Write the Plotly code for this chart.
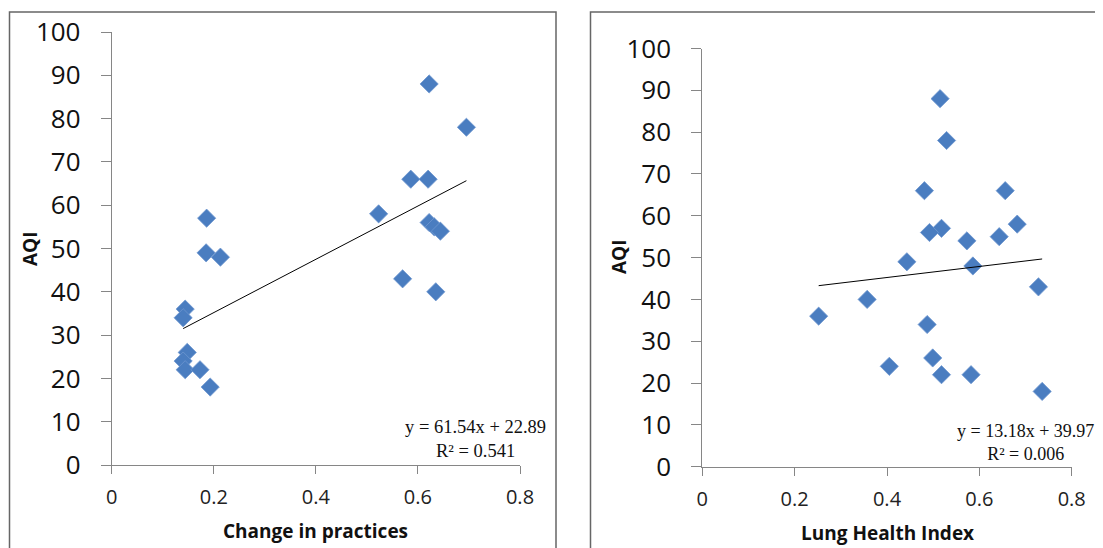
import plotly.graph_objects as go

# ---------------- data ----------------
practice_change = [0.622, 0.695, 0.586, 0.620, 0.523, 0.622, 0.632, 0.644, 0.570, 0.635,
                   0.186, 0.185, 0.213, 0.144, 0.140, 0.148, 0.140, 0.144, 0.173, 0.193]
aqi_practice = [88, 78, 66, 66, 58, 56, 55, 54, 43, 40,
                57, 49, 48, 36, 34, 26, 24, 22, 22, 18]

lung_index = [0.515, 0.529, 0.481, 0.656, 0.682, 0.518, 0.492, 0.643, 0.573, 0.443,
              0.586, 0.728, 0.357, 0.252, 0.487, 0.499, 0.405, 0.518, 0.582, 0.736]
aqi_lung = [88, 78, 66, 66, 58, 57, 56, 55, 54, 49,
            48, 43, 40, 36, 34, 26, 24, 22, 22, 18]

fit_practice = {"slope": 61.54, "intercept": 22.89, "label": "y = 61.54x + 22.89<br>R² = 0.541"}
fit_lung = {"slope": 13.18, "intercept": 39.97, "label": "y = 13.18x + 39.97<br>R² = 0.006"}

x_ticks = [0, 0.2, 0.4, 0.6, 0.8]
x_tick_text = ["0", "0.2", "0.4", "0.6", "0.8"]
y_ticks = [0, 10, 20, 30, 40, 50, 60, 70, 80, 90, 100]

x_titles = ["Change in practices", "Lung Health Index"]
y_title = "AQI"

# ---------------- layout helpers ----------------
# The page body has an 8px margin, so the figure is sized to fill the rest of the window
PAGE_W, PAGE_H, OFF = 1103, 548, 8
W, H = PAGE_W - OFF, PAGE_H - OFF
def px(x):
    return (x - OFF) / W
def py(y):
    return (PAGE_H - y) / H

MARK = "#4a7dc0"
AXC = "#868686"

fig = go.Figure()

panels = [
    (practice_change, aqi_practice, fit_practice, "x", "y"),
    (lung_index, aqi_lung, fit_lung, "x2", "y2"),
]
for xs, ys, fit, xa, ya in panels:
    fig.add_trace(go.Scatter(
        x=xs, y=ys, mode="markers", xaxis=xa, yaxis=ya,
        marker=dict(symbol="diamond", size=14, color=MARK,
                    line=dict(color="#6f97cf", width=0.8)),
        showlegend=False, hoverinfo="skip", cliponaxis=False))
    x0, x1 = min(xs), max(xs)
    fig.add_trace(go.Scatter(
        x=[x0, x1], y=[fit["slope"] * x0 + fit["intercept"], fit["slope"] * x1 + fit["intercept"]],
        mode="lines", xaxis=xa, yaxis=ya,
        line=dict(color="black", width=1), showlegend=False, hoverinfo="skip"))

xaxis_common = dict(range=[0, 0.8], tickvals=x_ticks, ticktext=x_tick_text, automargin=False,
                    showgrid=False, zeroline=False, showline=True, linecolor=AXC, linewidth=1,
                    ticks="outside", ticklen=8, tickcolor=AXC, tickwidth=1,
                    tickfont=dict(family="Open Sans", size=20, color="#222222"),
                    ticklabelstandoff=6)
yaxis_common = dict(range=[0, 100], tickvals=y_ticks, automargin=False,
                    showgrid=False, zeroline=False, showline=True, linecolor=AXC, linewidth=1,
                    ticks="outside", ticklen=10, tickcolor=AXC, tickwidth=1,
                    tickfont=dict(family="Open Sans", size=26, color="#111111"),
                    ticklabelstandoff=15)

fig.update_layout(
    template="none",
    width=W, height=H, autosize=False,
    margin=dict(l=0, r=0, t=0, b=0, pad=0, autoexpand=False),
    paper_bgcolor="white", plot_bgcolor="white",
    xaxis=dict(domain=[px(111.7), px(520)], anchor="y", **xaxis_common),
    yaxis=dict(domain=[py(465), py(32)], anchor="x", **yaxis_common),
    xaxis2=dict(domain=[px(702.3), px(1071.7)], anchor="y2", **xaxis_common),
    yaxis2=dict(domain=[py(466.7), py(48.5)], anchor="x2", **yaxis_common),
)

# panel frames
fig.add_shape(type="rect", xref="paper", yref="paper",
              x0=px(9.5), x1=px(556), y0=-0.05, y1=py(12),
              line=dict(color="#666666", width=1.5), layer="below")
fig.add_shape(type="rect", xref="paper", yref="paper",
              x0=px(590.5), x1=1.05, y0=-0.05, y1=py(12),
              line=dict(color="#666666", width=1.5), layer="below")

title_font = dict(family="Open Sans", size=19, color="#111111", weight="bold")
# x axis titles
fig.add_annotation(x=px(316), y=py(531), xref="paper", yref="paper", text=x_titles[0],
                   showarrow=False, font=title_font, xanchor="center", yanchor="middle")
fig.add_annotation(x=px(887), y=py(533), xref="paper", yref="paper", text=x_titles[1],
                   showarrow=False, font=title_font, xanchor="center", yanchor="middle")
# y axis titles
fig.add_annotation(x=px(30), y=py(249), xref="paper", yref="paper", text=y_title, textangle=-90,
                   showarrow=False, font=title_font, xanchor="center", yanchor="middle")
fig.add_annotation(x=px(619), y=py(257), xref="paper", yref="paper", text=y_title, textangle=-90,
                   showarrow=False, font=title_font, xanchor="center", yanchor="middle")

# trendline equations
eq_font = dict(family="Liberation Serif", size=18.5, color="#111111")
fig.add_annotation(x=px(475), y=py(439), xref="paper", yref="paper", text=fit_practice["label"],
                   showarrow=False, font=eq_font, align="center", xanchor="center", yanchor="middle")
fig.add_annotation(x=px(1025), y=py(442), xref="paper", yref="paper", text=fit_lung["label"],
                   showarrow=False, font=dict(family="Liberation Serif", size=18, color="#111111"),
                   align="center", xanchor="center", yanchor="middle")

fig.write_html("out.html")
